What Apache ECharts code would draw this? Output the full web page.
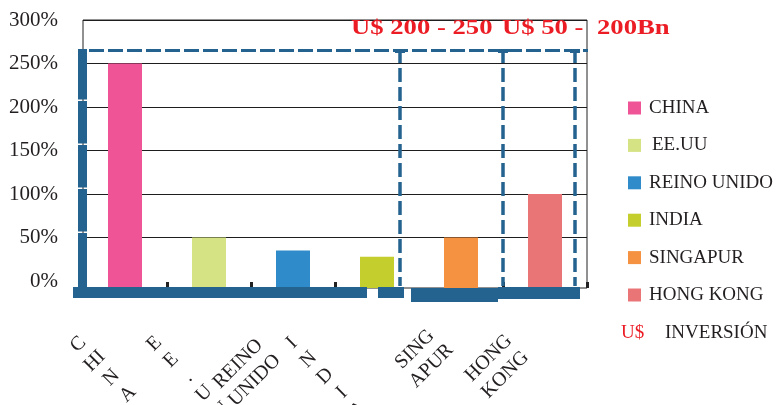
<!DOCTYPE html>
<html>
<head>
<meta charset="utf-8">
<script src="https://cdn.jsdelivr.net/npm/echarts@6/dist/echarts.min.js"></script>
<style>
  html, body { margin: 0; padding: 0; background: #ffffff; }
  #chart { width: 780px; height: 405px; }
</style>
</head>
<body>
<div id="chart"></div>
<script>
// Countries and their growth (%) shown as bars
const categories = ['CHINA', 'EE.UU', 'REINO UNIDO', 'INDIA', 'SINGAPUR', 'HONG KONG'];
const growth = [250, 50, 35, 28, 50, 100];
const barColors = ['#EF5497', '#D6E384', '#2F8BCA', '#C4CE2C', '#F59241', '#EA7576'];

// Category tick labels as they are broken over lines under the axis
const tickLabels = ['C\nHI\nN\nA', 'E\nE\n.\nU\nU', 'REINO\nUNIDO', 'I\nN\nD\nI\nA', 'SING\nAPUR', 'HONG\nKONG'];

// Value axis range and step
const yMin = 0;
const yMax = 300;
const yStep = 50;

// Investment range captions above the plot and the legend note
const rangeLabels = ['U$ 200 - 250', 'U$ 50 -', '200Bn'];
const currencyMark = 'U$';
const investmentNote = 'INVERSIÓN';

const SERIF = "'Liberation Serif', 'Times New Roman', serif";
const BLUE = '#24638F';
const RED = '#EC1C24';
const INK = '#231F20';
const BAR_WIDTH = 34;

// per-label nudges of the rotated category labels (local text frame)
const tickLabelPadding = [
  [-63, 30, 0, 0],
  [-69, 40, 0, 0],
  [-55, 69, 0, 0],
  [-91, 82, 0, 0],
  [-59, 36, 0, 0],
  [-60, 63, 0, 0]
];

const chart = echarts.init(document.getElementById('chart'), null, { renderer: 'canvas' });

// Bars run from their value down to the bottom edge of the framed plot
function renderBar(params, api) {
  const top = api.coord([api.value(0), api.value(1)]);
  const base = params.coordSys.y + params.coordSys.height;
  return {
    type: 'rect',
    shape: { x: top[0] - BAR_WIDTH / 2, y: top[1], width: BAR_WIDTH, height: base - top[1] },
    style: api.style()
  };
}

const series = categories.map((name, k) => ({
  name: name,
  type: 'custom',
  xAxisIndex: 1,
  yAxisIndex: 1,
  renderItem: renderBar,
  itemStyle: { color: barColors[k] },
  encode: { x: 0, y: 1 },
  data: [[k, growth[k]]]
}));

// dashed blue frame drawn over the plot
const overlay = [];
[[49, 99.5], [101, 143.5], [145, 187.5], [189, 231.5], [233, 287]].forEach(([a, b]) => {
  overlay.push({ type: 'rect', z: 100, shape: { x: 78, y: a, width: 9, height: b - a }, style: { fill: BLUE } });
});
overlay.push({ type: 'line', z: 100, shape: { x1: 89, y1: 50.5, x2: 588, y2: 50.5 },
  style: { stroke: BLUE, lineWidth: 3, lineDash: [15, 4] } });
[400, 503, 575].forEach(x => {
  overlay.push({ type: 'line', z: 100, shape: { x1: x, y1: 49, x2: x, y2: 286 },
    style: { stroke: BLUE, lineWidth: 3.5, lineDash: [14, 5] } });
  overlay.push({ type: 'rect', z: 100, shape: { x: x - 5, y: 49, width: 10, height: 4 }, style: { fill: BLUE } });
});
[[73, 287, 294, 11], [378, 287, 26, 11], [411, 288, 87, 14], [498, 287, 82, 12]].forEach(([x, y, w, h]) => {
  overlay.push({ type: 'rect', z: 100, shape: { x: x, y: y, width: w, height: h }, style: { fill: BLUE } });
});

// captions
const captionX = [351, 502, 597];
rangeLabels.forEach((t, i) => {
  overlay.push({ type: 'text', z: 110, x: captionX[i], y: 29, scaleX: 1.27,
    style: { text: t, fill: RED, font: 'bold 21px ' + SERIF, textAlign: 'left', textVerticalAlign: 'middle' } });
});
overlay.push({ type: 'text', z: 110, x: 621, y: 333,
  style: { text: currencyMark, fill: RED, font: '19px ' + SERIF, textAlign: 'left', textVerticalAlign: 'middle' } });
overlay.push({ type: 'text', z: 110, x: 665, y: 333,
  style: { text: investmentNote, fill: INK, font: '19px ' + SERIF, textAlign: 'left', textVerticalAlign: 'middle' } });

const option = {
  backgroundColor: '#ffffff',
  animation: false,
  grid: [
    // scale, split lines and percent labels
    { left: 83, top: 20, width: 504, height: 261, show: false, outerBoundsMode: 'none' },
    // bars, frame and category labels
    { left: 83, top: 20, width: 504, height: 268, show: true, outerBoundsMode: 'none',
      borderColor: '#222222', borderWidth: 1, backgroundColor: 'transparent' }
  ],
  xAxis: [
    { type: 'category', gridIndex: 0, data: categories, show: false },
    {
      type: 'category', gridIndex: 1,
      data: tickLabels.map((t, i) => ({
        value: t,
        textStyle: { align: 'center', verticalAlign: 'top', padding: tickLabelPadding[i] }
      })),
      axisLine: { show: false, onZero: false },
      axisTick: { show: true, inside: true, length: 6, interval: (i) => i !== 4, lineStyle: { color: '#222222', width: 3 } },
      axisLabel: {
        interval: 0, rotate: 45, margin: 82, align: 'center', verticalAlign: 'top',
        fontFamily: SERIF, fontSize: 20, lineHeight: 23.5, color: INK
      },
      splitLine: { show: false }
    }
  ],
  yAxis: [
    {
      type: 'value', gridIndex: 0, min: yMin, max: yMax, interval: yStep,
      axisLine: { show: false }, axisTick: { show: false },
      axisLabel: { formatter: '{value}%', margin: 25, fontFamily: SERIF, fontSize: 21, color: INK },
      splitLine: { show: true, showMinLine: false, lineStyle: { color: '#1E1E1E', width: 1 } }
    },
    {
      // same scale as the first axis, carried down to the frame's bottom edge
      type: 'value', gridIndex: 1, min: yMin - 8, max: yMax,
      show: false, splitLine: { show: false }
    }
  ],
  legend: {
    orient: 'vertical', left: 628, top: 98, itemGap: 17.4, padding: 0,
    itemWidth: 13, itemHeight: 13, icon: 'rect',
    data: categories.map(c => (c === 'EE.UU' ? { name: c, textStyle: { padding: [0, 0, 0, 6] } } : c)),
    textStyle: { fontFamily: SERIF, fontSize: 19, lineHeight: 20, color: INK, padding: [0, 0, 0, 3] }
  },
  graphic: overlay,
  series: series
};

chart.setOption(option);
</script>
</body>
</html>
